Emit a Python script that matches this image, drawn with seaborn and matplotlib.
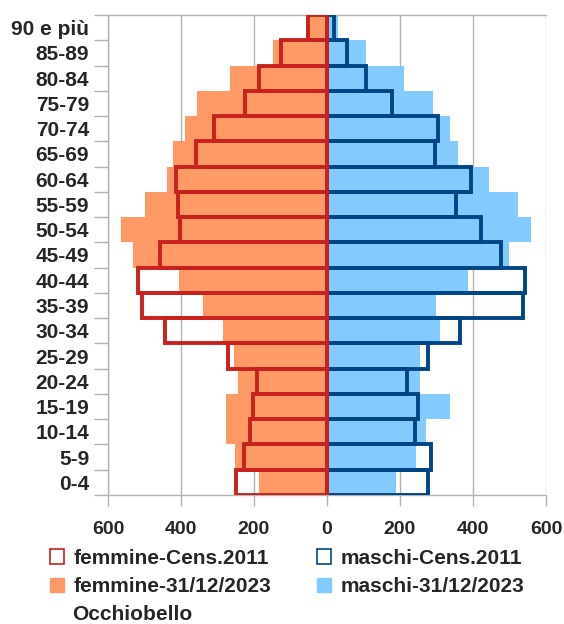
import matplotlib
matplotlib.use("Agg")
import matplotlib.pyplot as plt
from matplotlib.patches import Patch
import seaborn as sns
import pandas as pd
import numpy as np

# classi di eta, dall'alto verso il basso
eta = ["90 e più", "85-89", "80-84", "75-79", "70-74", "65-69", "60-64", "55-59",
       "50-54", "45-49", "40-44", "35-39", "30-34", "25-29", "20-24", "15-19",
       "10-14", "5-9", "0-4"]

femmine_2023 = [58, 148, 267, 355, 389, 422, 439, 499, 565, 532, 405, 340, 284, 254, 243, 276, 278, 251, 185]
maschi_2023 = [29, 107, 211, 290, 338, 359, 443, 522, 558, 498, 385, 298, 310, 255, 255, 338, 272, 245, 189]
femmine_2011 = [52, 125, 187, 224, 309, 360, 414, 407, 403, 458, 519, 506, 445, 272, 191, 203, 212, 227, 250]
maschi_2011 = [19, 55, 107, 177, 304, 297, 395, 353, 421, 478, 543, 536, 364, 278, 219, 248, 240, 284, 277]

ROSSO = "#C9211E"
BLU = "#004586"
ARANCIO = "#FF9966"
AZZURRO = "#83CAFF"

df = pd.DataFrame({
    "eta": eta,
    "f23": -np.array(femmine_2023),
    "m23": maschi_2023,
    "f11": -np.array(femmine_2011),
    "m11": maschi_2011,
})

sns.set_style("white")
plt.rcParams["font.family"] = ["Liberation Sans", "DejaVu Sans"]
plt.rcParams["font.weight"] = "bold"

fig = plt.figure(figsize=(5.64, 6.24), dpi=100)
ax = fig.add_axes([108 / 564, 1 - 495 / 624, 438 / 564, 480 / 624])

# vertical grid
for v in range(-600, 601, 200):
    ax.axvline(v, color="#b3b3b3", lw=1, zorder=0)

sns.barplot(data=df, x="f23", y="eta", order=eta, color=ARANCIO, width=1,
            saturation=1, linewidth=0, ax=ax, zorder=2)
sns.barplot(data=df, x="m23", y="eta", order=eta, color=AZZURRO, width=1,
            saturation=1, linewidth=0, ax=ax, zorder=2)
sns.barplot(data=df, x="m11", y="eta", order=eta, fill=False, width=1,
            edgecolor=BLU, linewidth=2.8, ax=ax, zorder=3)
sns.barplot(data=df, x="f11", y="eta", order=eta, fill=False, width=1,
            edgecolor=ROSSO, linewidth=2.8, ax=ax, zorder=4)

ax.set_xlim(-600, 600)
ax.set_ylim(len(eta) - 0.5, -0.5)
ax.set_xticks(range(-600, 601, 200))
ax.set_xticklabels([str(abs(v)) for v in range(-600, 601, 200)],
                   fontsize=14, fontweight="bold")
ax.set_yticks(range(len(eta)))
ax.set_yticklabels(eta, fontsize=15, fontweight="bold")
ax.set_yticks(np.arange(-0.5, len(eta), 1), minor=True)
ax.tick_params(axis="y", which="major", length=0, pad=13.5)
ax.tick_params(axis="y", which="minor", length=10, color="#b3b3b3", width=1, left=True)
ax.tick_params(axis="x", length=8, color="#b3b3b3", width=1, bottom=True, pad=11)
ax.set_xlabel("")
ax.set_ylabel("")
for s in ["left", "bottom", "top"]:
    ax.spines[s].set_color("#b3b3b3")
    ax.spines[s].set_linewidth(1)
ax.spines["right"].set_visible(False)

handles = [
    Patch(facecolor="white", edgecolor=ROSSO, linewidth=1.2, label="femmine-Cens.2011"),
    Patch(facecolor=ARANCIO, edgecolor=ARANCIO, label="femmine-31/12/2023"),
    Patch(facecolor="white", edgecolor=BLU, linewidth=1.2, label="maschi-Cens.2011"),
    Patch(facecolor=AZZURRO, edgecolor=AZZURRO, label="maschi-31/12/2023"),
]
fig.legend(handles=handles, ncol=2, loc="upper left", bbox_to_anchor=(33 / 564, 1 - 532 / 624),
           frameon=False, prop={"size": 15, "weight": "bold"},
           handlelength=0.68, handleheight=0.68, handletextpad=0.45,
           columnspacing=2.2, labelspacing=0.45, borderpad=0.3)
fig.text(72 / 564, 1 - 615 / 624, "Occhiobello", fontsize=15, fontweight="bold",
         va="center", ha="left")

fig.savefig("out.png", dpi=100)
